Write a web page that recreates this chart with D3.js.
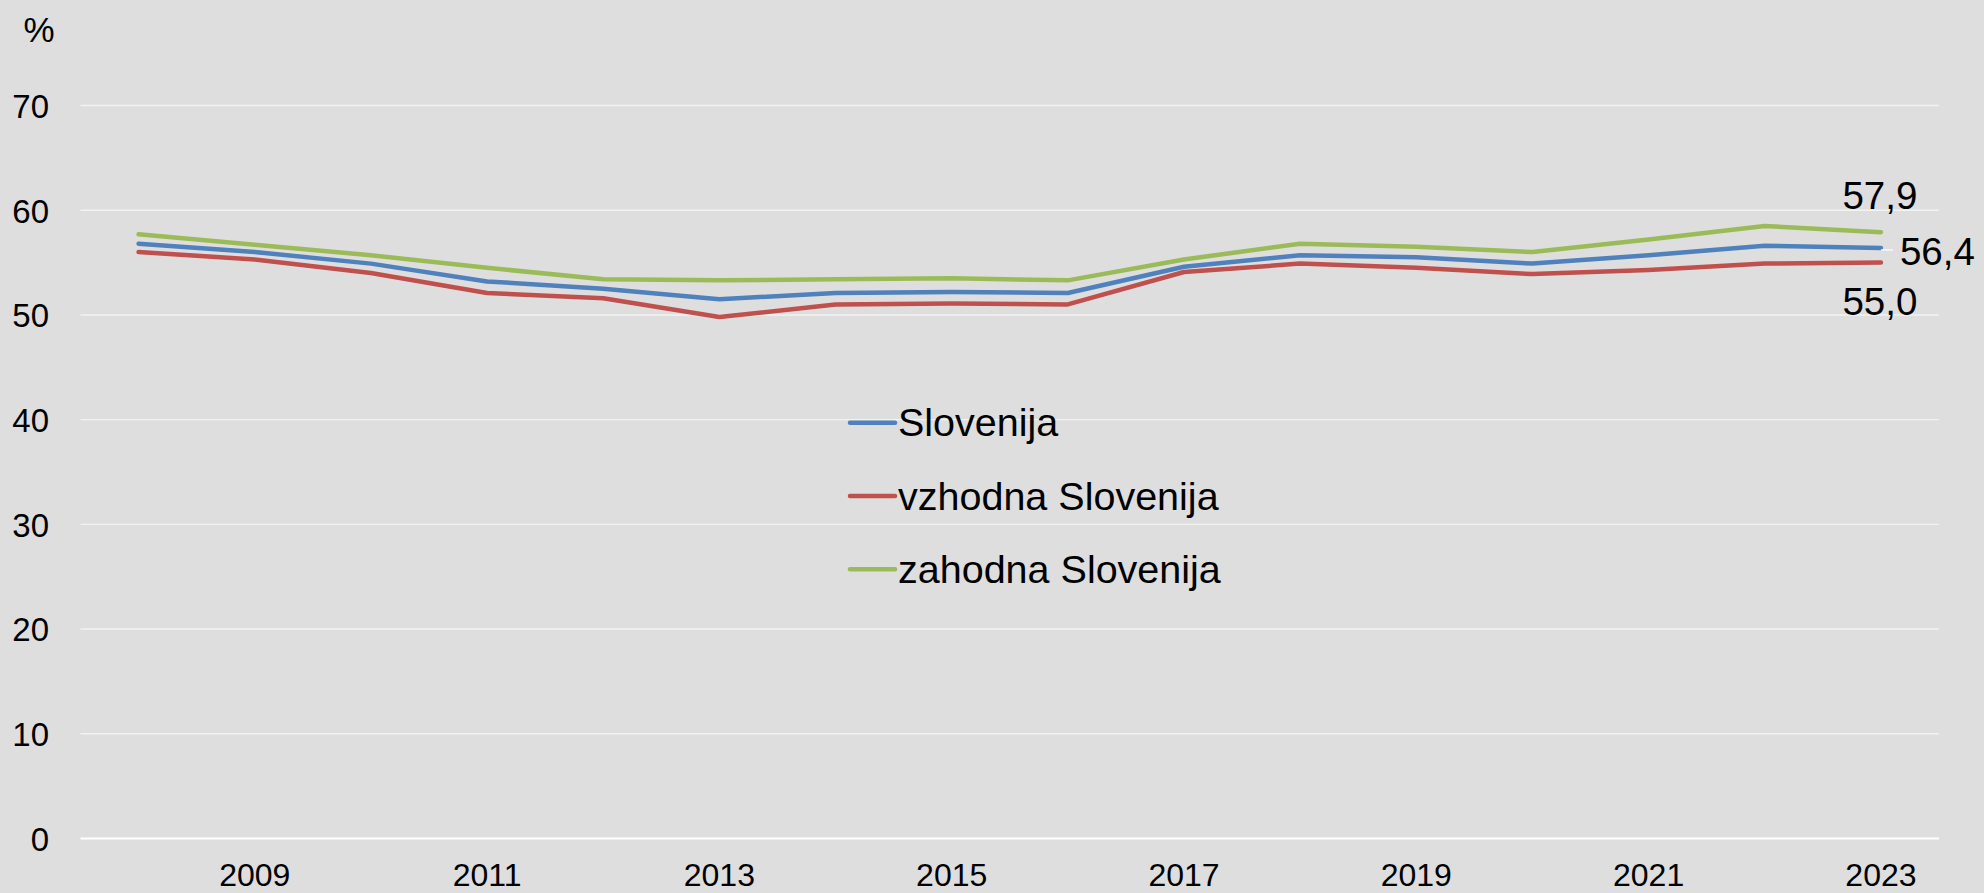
<!DOCTYPE html>
<html>
<head>
<meta charset="utf-8">
<script src="https://cdn.jsdelivr.net/npm/d3@7"></script>
<style>
  html, body { margin: 0; padding: 0; background: #DEDEDE; }
  svg { display: block; font-family: "Liberation Sans", Arial, sans-serif; }
</style>
</head>
<body>
<svg id="chart" width="1984" height="893"></svg>
<script>
const years = [2008, 2009, 2010, 2011, 2012, 2013, 2014, 2015, 2016, 2017, 2018, 2019, 2020, 2021, 2022, 2023];
const seriesNames = ["Slovenija", "vzhodna Slovenija", "zahodna Slovenija"];
const slovenija = [56.8, 56.0, 54.9, 53.2, 52.5, 51.5, 52.1, 52.2, 52.1, 54.6, 55.7, 55.5, 54.9, 55.7, 56.6, 56.4];
const vzhodna   = [56.0, 55.3, 54.0, 52.1, 51.6, 49.8, 51.0, 51.1, 51.0, 54.1, 54.9, 54.5, 53.9, 54.3, 54.9, 55.0];
const zahodna   = [57.7, 56.7, 55.7, 54.5, 53.4, 53.3, 53.4, 53.5, 53.3, 55.3, 56.8, 56.5, 56.0, 57.2, 58.5, 57.9];
const yTicks = [0, 10, 20, 30, 40, 50, 60, 70];
const xTickLabels = [2009, 2011, 2013, 2015, 2017, 2019, 2021, 2023];
const colors = ["#4F81BD", "#C0504D", "#9BBB59"];

const seriesData = [slovenija, vzhodna, zahodna];
const fmt = d3.formatLocale({decimal: ",", thousands: ".", grouping: [3], currency: ["", "€"]}).format(".1f");

const svg = d3.select("#chart");
const plotLeft = 80.5, plotRight = 1939, plotTop = 105.5, plotBottom = 838.5;

const x = d3.scaleBand().domain(years).range([plotLeft, plotRight]).padding(0);
const y = d3.scaleLinear().domain([0, 70]).range([plotBottom, plotTop]);
const cx = d => x(d) + x.bandwidth() / 2;

// gridlines
svg.append("g").selectAll("line").data(yTicks).join("line")
  .attr("x1", plotLeft).attr("x2", plotRight)
  .attr("y1", d => y(d)).attr("y2", d => y(d))
  .attr("stroke", d => d === 0 ? "#FFFFFF" : "#F2F2F2")
  .attr("stroke-width", d => d === 0 ? 2 : 1.4);

// y axis labels
const yAxis = d3.axisLeft(y).tickValues(yTicks).tickSize(0).tickPadding(0).tickFormat(d3.format("d"));
const gy = svg.append("g").attr("transform", "translate(49,0)").call(yAxis);
gy.select(".domain").remove();
gy.selectAll("text").attr("font-size", 33).attr("fill", "#000").attr("font-family", "Liberation Sans, Arial, sans-serif").attr("dy", "0.36em");

// x axis labels
const xAxis = d3.axisBottom(x).tickValues(xTickLabels).tickSize(0).tickPadding(0).tickFormat(d3.format("d"));
const gx = svg.append("g").attr("transform", `translate(0,${plotBottom})`).call(xAxis);
gx.select(".domain").remove();
gx.selectAll("text").attr("font-size", 32).attr("fill", "#000").attr("font-family", "Liberation Sans, Arial, sans-serif").attr("dy", null).attr("y", 47.5);

// unit label
svg.append("text").attr("x", 39).attr("y", 41.5).attr("text-anchor", "middle")
  .attr("font-size", 35).attr("fill", "#000").text("%");

// lines
const line = d3.line().x((d, i) => cx(years[i])).y(d => y(d));
svg.append("g").selectAll("path").data(seriesData).join("path")
  .attr("d", d => line(d))
  .attr("fill", "none")
  .attr("stroke", (d, i) => colors[i])
  .attr("stroke-width", 4.5)
  .attr("stroke-linejoin", "round")
  .attr("stroke-linecap", "round");

// data labels at last point
const last = years.length - 1;
const lx = cx(years[last]);
svg.append("text").attr("x", lx - 1).attr("y", y(zahodna[last]) - 23).attr("text-anchor", "middle")
  .attr("font-size", 38.5).attr("fill", "#000").text(fmt(zahodna[last]));
svg.append("text").attr("x", lx + 19).attr("y", y(slovenija[last]) + 17).attr("text-anchor", "start")
  .attr("font-size", 38.5).attr("fill", "#000").text(fmt(slovenija[last]));
svg.append("text").attr("x", lx - 1).attr("y", y(vzhodna[last]) + 52).attr("text-anchor", "middle")
  .attr("font-size", 38.5).attr("fill", "#000").text(fmt(vzhodna[last]));
svg.append("line").attr("x1", lx).attr("x2", lx + 12)
  .attr("y1", y(slovenija[last]) + 2).attr("y2", y(slovenija[last]) + 2)
  .attr("stroke", "#FFFFFF").attr("stroke-width", 1.2);

// legend
const legend = svg.append("g").selectAll("g").data(seriesNames).join("g")
  .attr("transform", (d, i) => `translate(850,${422.7 + i * 73.3})`);
legend.append("line").attr("x1", 0).attr("x2", 45).attr("y1", 0).attr("y2", 0)
  .attr("stroke", (d, i) => colors[i]).attr("stroke-width", 4.5).attr("stroke-linecap", "round");
legend.append("text").attr("x", 48).attr("y", 13.5)
  .attr("font-size", 39.5).attr("fill", "#000").text(d => d);
</script>
</body>
</html>
